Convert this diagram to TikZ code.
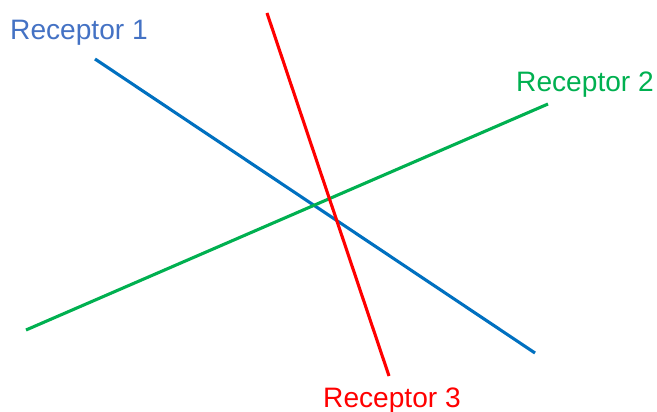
\documentclass[tikz,border=0pt]{standalone}
\usepackage{fontspec}
\setmainfont{Liberation Sans}
\usepackage{tikz}

\definecolor{recblue}{RGB}{0,112,192}
\definecolor{labblue}{RGB}{68,114,196}
\definecolor{recgreen}{RGB}{0,176,80}
\definecolor{recred}{RGB}{255,0,0}

\begin{document}
\begin{tikzpicture}[
  x=0.025cm, y=-0.025cm,
  receptor/.style={line width=2.2pt},
  label/.style={inner sep=0pt, font=\fontsize{20}{24}\selectfont}
]
\useasboundingbox (0,0) rectangle (657,412);
% line ends
\coordinate (b1) at (95,59);
\coordinate (b2) at (535,353);
\coordinate (g1) at (26,330);
\coordinate (g2) at (548,104);
\coordinate (r1) at (267,13);
\coordinate (r2) at (389,376);
% labels
\node[label, text=labblue] (rec1) at (79,33) {Receptor 1};
\node[label, text=recgreen] (rec2) at (585,85) {Receptor 2};
\node[label, text=recred] (rec3) at (392,401) {Receptor 3};
% receptors
\draw[receptor, recblue] (b1) -- (b2);
\draw[receptor, recgreen] (g1) -- (g2);
\draw[receptor, recred] (r1) -- (r2);
\end{tikzpicture}
\end{document}
